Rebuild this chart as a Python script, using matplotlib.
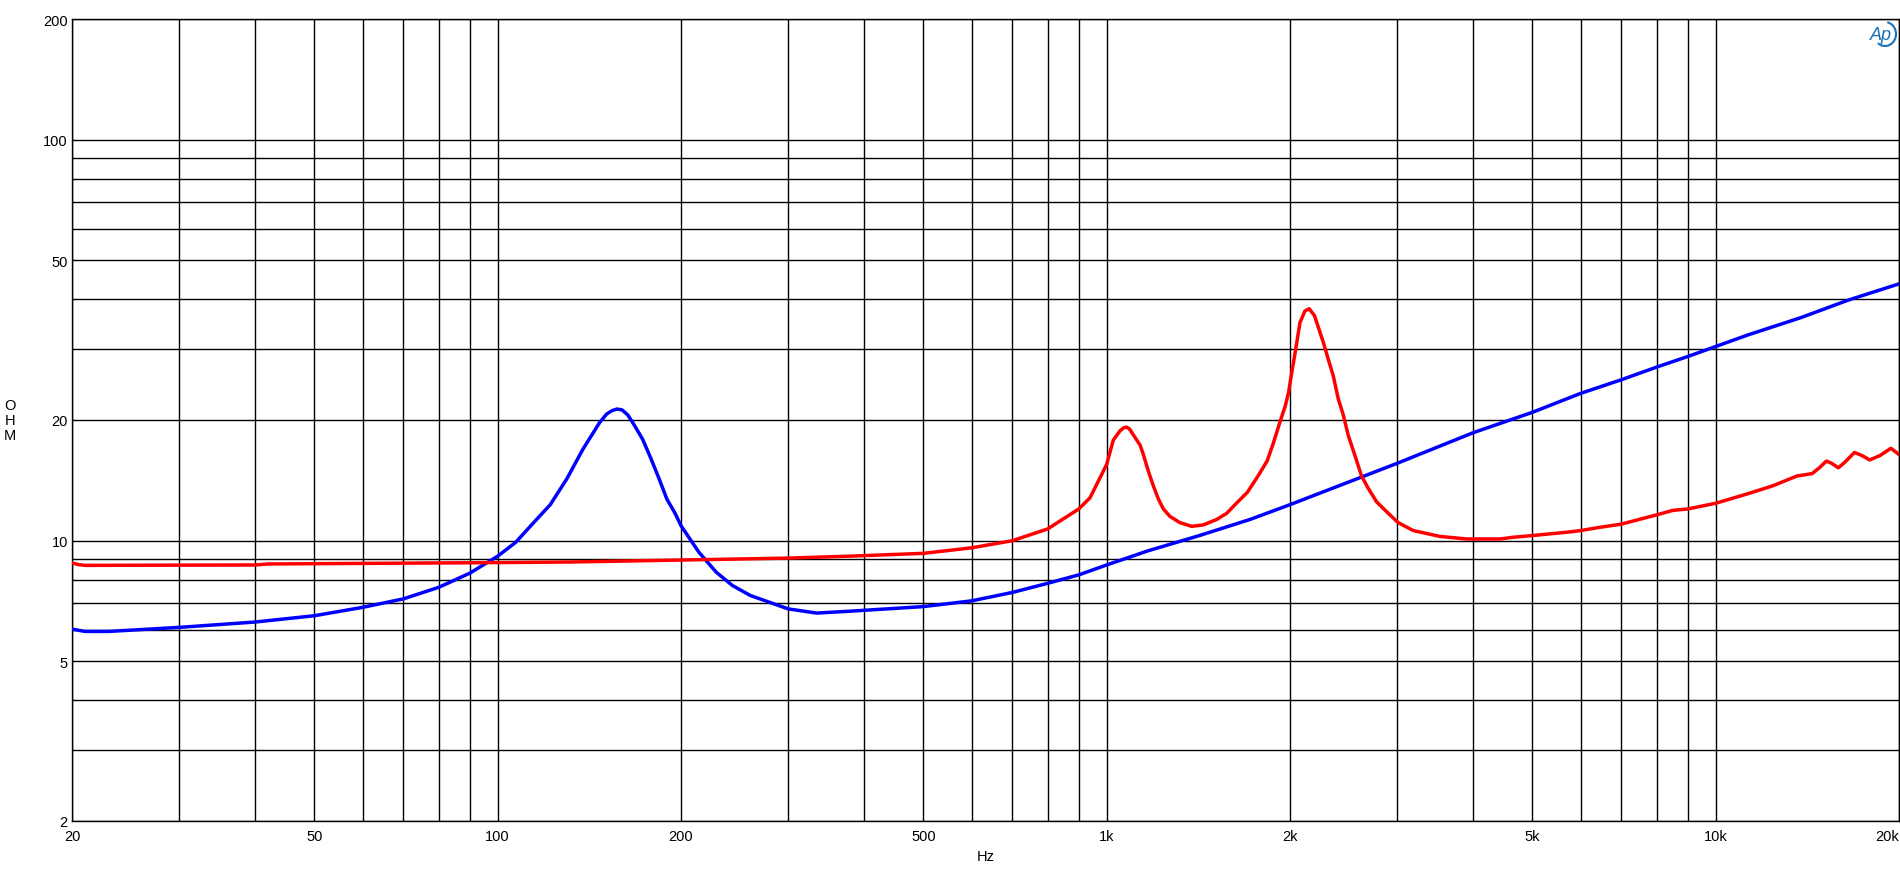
import numpy as np
import matplotlib
matplotlib.use('Agg')
import matplotlib.pyplot as plt
from matplotlib.patches import Arc
from matplotlib.ticker import FixedLocator, NullFormatter

plt.rcParams['font.family'] = ['Liberation Sans', 'DejaVu Sans']

# impedance curves (Hz, ohm)
blue_f = [20, 21, 23, 30, 40, 50, 60, 70, 80, 90, 100, 107, 114.6, 122, 130, 138,
          147, 151, 154, 157, 160, 163.5, 167, 173, 178.6, 184, 189.6, 195.6, 200, 214,
          228.6, 243, 260, 300, 334, 378, 500, 600, 700, 800, 900, 1000, 1170, 1420,
          1720, 2000, 3000, 4000, 5000, 6000, 7000, 8000, 9000, 10000, 11300, 13800,
          16500, 20000]
blue_z = [6.02, 5.94, 5.94, 6.08, 6.27, 6.50, 6.82, 7.16, 7.65, 8.3, 9.15, 9.9, 11.1,
          12.3, 14.3, 16.9, 19.7, 20.7, 21.1, 21.3, 21.2, 20.6, 19.6, 17.9, 16.0, 14.3,
          12.7, 11.7, 10.9, 9.36, 8.34, 7.73, 7.3, 6.76, 6.6, 6.67, 6.85, 7.08, 7.43,
          7.83, 8.22, 8.70, 9.44, 10.3, 11.3, 12.3, 15.6, 18.6, 20.9, 23.3, 25.2, 27.1,
          28.8, 30.5, 32.6, 36.0, 39.8, 43.7]

red_f = [20, 20.5, 21, 40, 42, 100, 132, 200, 300, 378, 500, 600, 700, 800, 900, 939,
         1000, 1025, 1052, 1065, 1078, 1090, 1100, 1135, 1148, 1170, 1193, 1216, 1239,
         1270, 1318, 1379, 1441, 1516, 1574, 1633, 1702, 1767, 1834, 1880, 1928, 1965,
         1990, 2005, 2039, 2077, 2116, 2150, 2194, 2269, 2312, 2355, 2400, 2446, 2493,
         2557, 2621, 2689, 2775, 2884, 3009, 3187, 3525, 3903, 4425, 4650, 5000, 5700,
         6000, 6456, 7000, 8000, 8500, 9000, 10000, 11300, 12400, 13600, 14400, 14800,
         15200, 15500, 15900, 16300, 16900, 17400, 17900, 18600, 19400, 20000]
red_z = [8.8, 8.72, 8.68, 8.7, 8.75, 8.82, 8.85, 8.95, 9.05, 9.15, 9.3, 9.6, 10.0, 10.7,
         12.0, 12.8, 15.5, 17.8, 18.8, 19.1, 19.2, 19.0, 18.6, 17.3, 16.45, 14.95, 13.7,
         12.7, 12.0, 11.5, 11.1, 10.86, 10.95, 11.3, 11.7, 12.4, 13.2, 14.4, 15.8, 17.6,
         19.9, 21.7, 23.5, 25.3, 29.4, 35.0, 37.4, 37.9, 36.4, 31.2, 28.3, 25.8, 22.6,
         20.6, 18.3, 16.3, 14.5, 13.5, 12.5, 11.8, 11.1, 10.6, 10.25, 10.1, 10.1, 10.2,
         10.3, 10.5, 10.6, 10.8, 11.0, 11.6, 11.9, 12.0, 12.4, 13.1, 13.7, 14.5, 14.7,
         15.2, 15.8, 15.6, 15.2, 15.7, 16.6, 16.3, 15.9, 16.3, 17.0, 16.4]

x_major = [20, 50, 100, 200, 500, 1000, 2000, 5000, 10000, 20000]
x_labels = ['20', '50', '100', '200', '500', '1k', '2k', '5k', '10k', '20k']
y_major = [2, 5, 10, 20, 50, 100, 200]
y_labels = ['2', '5', '10', '20', '50', '100', '200']

x_minor = [m * d for d in (10, 100, 1000, 10000) for m in range(1, 10)
           if 20 < m * d < 20000 and m * d not in x_major]
y_minor = [m * d for d in (1, 10, 100) for m in range(1, 10)
           if 2 < m * d < 200 and m * d not in y_major]

W, H = 1900, 887
fig = plt.figure(figsize=(W / 100, H / 100), dpi=100)
ax = fig.add_axes([72 / W, 1 - 822 / H, 1827 / W, 802 / H])

ax.set_xscale('log')
ax.set_yscale('log')
ax.set_xlim(20, 20000)
ax.set_ylim(2, 200)

ax.xaxis.set_major_locator(FixedLocator(x_major))
ax.xaxis.set_minor_locator(FixedLocator(x_minor))
ax.set_xticklabels(x_labels)
ax.xaxis.set_minor_formatter(NullFormatter())
ax.yaxis.set_major_locator(FixedLocator(y_major))
ax.yaxis.set_minor_locator(FixedLocator(y_minor))
ax.set_yticklabels(y_labels)
ax.yaxis.set_minor_formatter(NullFormatter())

ax.tick_params(which='both', length=0, labelsize=10.5, colors='black')
ax.tick_params(axis='y', pad=3)
ax.tick_params(axis='x', pad=6)
ax.get_xticklabels()[-1].set_ha('right')

ax.grid(True, which='both', color='black', lw=1.0)
ax.set_axisbelow(True)
for s in ax.spines.values():
    s.set_color('black')
    s.set_linewidth(1.0)

ax.plot(blue_f, blue_z, color='#0000ff', lw=2.5, zorder=3)
ax.plot(red_f, red_z, color='#ff0000', lw=2.5, zorder=3)

ax.set_xlabel('Hz', fontsize=10.5, va='center')
ax.xaxis.set_label_coords(0.5, (822 - 857) / 802)
ax.set_ylabel('O\nH\nM', fontsize=10.5, rotation=0, va='center', ha='center',
              linespacing=1.1)
ax.yaxis.set_label_coords((10 - 72) / 1827, 0.5)

# Audio Precision logo, top right
fig.text(1881 / W, 1 - 35 / H, 'Ap', color='#1a72b8', fontsize=13, style='italic',
         ha='center', va='center')
fig.patches.append(Arc((1885 / W, 1 - 35 / H), 22 / W, 24 / H, theta1=-110, theta2=85,
                       transform=fig.transFigure, color='#1a72b8', lw=1.5))

fig.savefig('out.png', dpi=100)
